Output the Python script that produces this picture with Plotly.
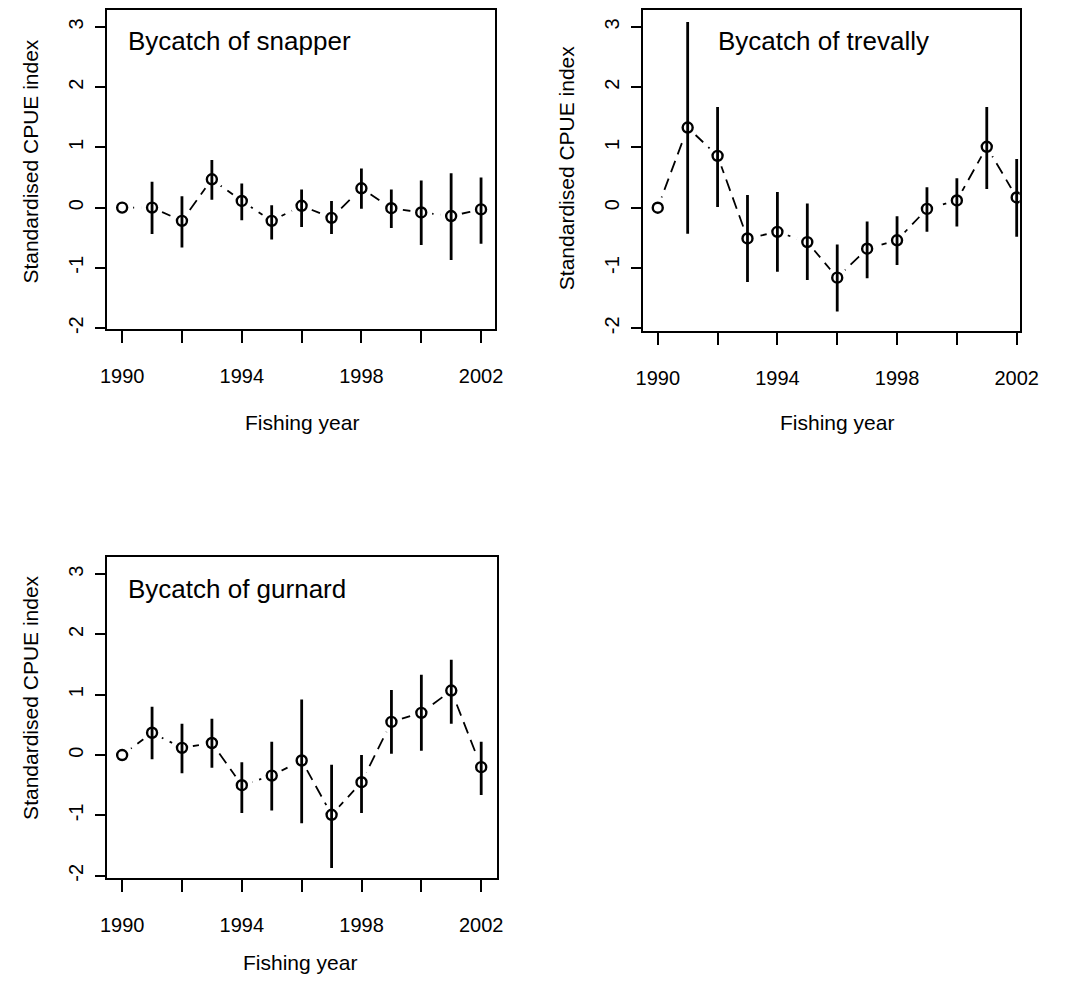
import plotly.graph_objects as go

years = [1990, 1991, 1992, 1993, 1994, 1995, 1996, 1997, 1998, 1999, 2000, 2001, 2002]

snapper = [0.00, 0.00, -0.22, 0.47, 0.11, -0.22, 0.03, -0.17, 0.32, -0.01, -0.08, -0.14, -0.03]
snapper_hi = [0.00, 0.43, 0.19, 0.79, 0.40, 0.04, 0.30, 0.11, 0.65, 0.30, 0.45, 0.57, 0.50]
snapper_lo = [0.00, -0.44, -0.66, 0.13, -0.21, -0.53, -0.32, -0.44, -0.02, -0.34, -0.62, -0.87, -0.60]

trevally = [0.00, 1.33, 0.86, -0.51, -0.40, -0.57, -1.16, -0.68, -0.54, -0.02, 0.12, 1.01, 0.17]
trevally_hi = [0.00, 3.08, 1.67, 0.21, 0.26, 0.07, -0.61, -0.23, -0.14, 0.34, 0.49, 1.67, 0.81]
trevally_lo = [0.00, -0.43, 0.01, -1.23, -1.06, -1.20, -1.72, -1.17, -0.95, -0.40, -0.31, 0.31, -0.48]

gurnard = [0.00, 0.37, 0.12, 0.20, -0.50, -0.34, -0.09, -0.99, -0.45, 0.55, 0.70, 1.07, -0.20]
gurnard_hi = [0.00, 0.80, 0.52, 0.60, -0.12, 0.22, 0.92, -0.16, 0.00, 1.08, 1.33, 1.58, 0.22]
gurnard_lo = [0.00, -0.07, -0.30, -0.21, -0.96, -0.92, -1.13, -1.87, -0.96, 0.02, 0.07, 0.52, -0.66]

titles = ["Bycatch of snapper", "Bycatch of trevally", "Bycatch of gurnard"]
x_tickvals = [1990, 1992, 1994, 1996, 1998, 2000, 2002]
x_ticktext = ["1990", "", "1994", "", "1998", "", "2002"]
y_tickvals = [-2, -1, 0, 1, 2, 3]
y_ticktext = ["-2", "-1", "0", "1", "2", "3"]

W, H = 1066, 991
FONT = "Liberation Sans, Arial, Helvetica, sans-serif"

def px(x):
    return x / W

def py(y):
    return 1 - y / H

panels = [
    dict(vals=snapper, hi=snapper_hi, lo=snapper_lo, xd=[103, 500], yd=[10, 331],
         xr=[1989.51, 2002.46], yr=[-2.02, 3.28], title_xy=(122, 41),
         ytitle_xy=(24, 162), xtitle_xy=(302, 425)),
    dict(vals=trevally, hi=trevally_hi, lo=trevally_lo, xd=[652, 1038], yd=[10, 333],
         xr=[1989.51, 2002.1], yr=[-2.05, 3.28], title_xy=(727, 41),
         ytitle_xy=(573, 169), xtitle_xy=(851, 425)),
    dict(vals=gurnard, hi=gurnard_hi, lo=gurnard_lo, xd=[103, 502], yd=[560, 882],
         xr=[1989.51, 2002.52], yr=[-2.03, 3.28], title_xy=(122, 592),
         ytitle_xy=(24, 701), xtitle_xy=(300, 967)),
]

fig = go.Figure()
annotations = []
for i, p in enumerate(panels):
    n = "" if i == 0 else str(i + 1)
    xa, ya = "x" + n, "y" + n
    vals = p["vals"]
    err_plus = [h - v for h, v in zip(p["hi"], vals)]
    err_minus = [v - l for v, l in zip(vals, p["lo"])]
    # dashed connecting line
    fig.add_trace(go.Scatter(x=years, y=vals, mode="lines", xaxis=xa, yaxis=ya,
                             line=dict(color="black", width=1.8, dash="12px,7px"),
                             showlegend=False, hoverinfo="skip"))
    # white halo to create gaps around points (R type="b")
    fig.add_trace(go.Scatter(x=years, y=vals, mode="markers", xaxis=xa, yaxis=ya,
                             marker=dict(symbol="circle", size=22, color="white",
                                         line=dict(width=0)),
                             showlegend=False, hoverinfo="skip"))
    # error bars
    fig.add_trace(go.Scatter(x=years[1:], y=vals[1:], mode="markers", xaxis=xa, yaxis=ya,
                             marker=dict(size=1, color="rgba(0,0,0,0)"),
                             error_y=dict(type="data", symmetric=False,
                                          array=err_plus[1:], arrayminus=err_minus[1:],
                                          color="black", thickness=2.8, width=0),
                             showlegend=False, hoverinfo="skip"))
    # open circles
    fig.add_trace(go.Scatter(x=years, y=vals, mode="markers", xaxis=xa, yaxis=ya,
                             marker=dict(symbol="circle-open", size=10, color="black",
                                         line=dict(width=2.4, color="black")),
                             showlegend=False))
    common = dict(showline=True, linecolor="black", linewidth=2, mirror=True,
                  showgrid=False, zeroline=False, ticks="outside", tickcolor="black",
                  tickwidth=2, tickfont=dict(family=FONT, size=20, color="black"))
    fig.layout["xaxis" + n] = dict(domain=[px(p["xd"][0]), px(p["xd"][1])], range=p["xr"],
                                   anchor=ya, tickvals=x_tickvals, ticktext=x_ticktext,
                                   ticklen=12, ticklabelstandoff=16, **common)
    fig.layout["yaxis" + n] = dict(domain=[py(p["yd"][1]), py(p["yd"][0])], range=p["yr"],
                                   anchor=xa, tickvals=y_tickvals, ticktext=y_ticktext,
                                   ticklen=10, tickangle=-90, ticklabelstandoff=4, **common)
    tx, ty = p["title_xy"]
    annotations.append(dict(text=titles[i], x=px(tx), y=py(ty), xref="paper", yref="paper",
                            xanchor="left", yanchor="middle", showarrow=False,
                            font=dict(family=FONT, size=26, color="black")))
    ax_, ay_ = p["ytitle_xy"]
    annotations.append(dict(text="Standardised CPUE index", x=px(ax_), y=py(ay_),
                            xref="paper", yref="paper", xanchor="center", yanchor="middle",
                            textangle=-90, showarrow=False,
                            font=dict(family=FONT, size=21, color="black")))
    bx, by = p["xtitle_xy"]
    annotations.append(dict(text="Fishing year", x=px(bx), y=py(by), xref="paper", yref="paper",
                            xanchor="center", yanchor="middle", showarrow=False,
                            font=dict(family=FONT, size=21, color="black")))

fig.update_layout(width=W, height=H, margin=dict(l=0, r=0, t=0, b=0),
                  paper_bgcolor="white", plot_bgcolor="white",
                  annotations=annotations, showlegend=False)

fig.write_html("out.html")
